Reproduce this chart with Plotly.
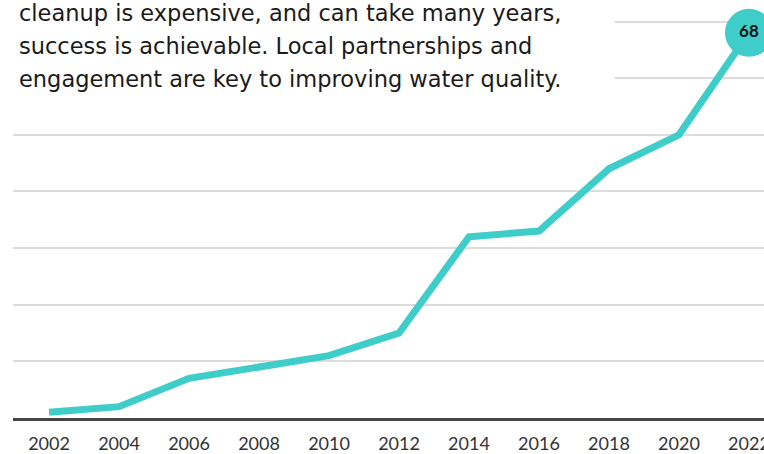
import plotly.graph_objects as go

# Series: restored waterbodies by survey year
years = [2002, 2004, 2006, 2008, 2010, 2012, 2014, 2016, 2018, 2020, 2022]
values = [1, 2, 7, 9, 11, 15, 32, 33, 44, 50, 68]
tick_years = [2002, 2004, 2006, 2008, 2010, 2012, 2014, 2016, 2018, 2020, 2022]
tick_labels = [str(y) for y in tick_years]

intro_lines = [
    "cleanup is expensive, and can take many years,",
    "success is achievable. Local partnerships and",
    "engagement are key to improving water quality.",
]

TEAL = "#3ecdc9"
W, H = 764, 454
ML, MR, MT, MB = 13, 0, 0, 36
plot_h = H - MT - MB

fig = go.Figure()

fig.add_trace(go.Scatter(
    x=years, y=values, mode="lines",
    line=dict(color=TEAL, width=7),
    hoverinfo="skip", showlegend=False,
))

# Highlighted latest value
fig.add_trace(go.Scatter(
    x=[years[-1]], y=[values[-1]], mode="markers+text",
    marker=dict(color=TEAL, size=48, line=dict(width=0)),
    text=[str(values[-1])], textposition="middle center",
    textfont=dict(family="Lato, sans-serif", size=17, color="#111111", weight="bold"),
    cliponaxis=False, hoverinfo="skip", showlegend=False,
))

# White panel behind the intro text hides the upper gridlines
fig.add_shape(
    type="rect", xref="x", yref="y", layer="between",
    x0=2000.5, x1=2018.17, y0=55, y1=80,
    fillcolor="white", line=dict(width=0),
)

line_centres = [13, 46, 79]
for txt, cy in zip(intro_lines, line_centres):
    fig.add_annotation(
        text=txt, xref="paper", yref="paper",
        x=(17 - ML) / (W - ML - MR), y=1 - (cy - MT) / plot_h,
        xanchor="left", yanchor="middle", showarrow=False,
        font=dict(family="DejaVu Sans, sans-serif", size=22.5, color="#1a1a1a"),
    )

fig.update_layout(
    width=W, height=H,
    margin=dict(l=ML, r=MR, t=MT, b=MB, autoexpand=False),
    paper_bgcolor="white", plot_bgcolor="white",
    xaxis=dict(
        range=[2000.97, 2022.43], automargin=False,
        tickmode="array", tickvals=tick_years, ticktext=tick_labels,
        showgrid=False, zeroline=False,
        showline=True, linecolor="#444444", linewidth=3,
        ticks="", ticklabelstandoff=7, ticklabeloverflow="allow",
        tickfont=dict(family="Lato, sans-serif", size=18, color="#333333"),
    ),
    yaxis=dict(
        range=[0, 73.8], dtick=10, tick0=0, automargin=False,
        showgrid=True, gridcolor="#dcdcdc", gridwidth=2,
        zeroline=False, showticklabels=False, ticks="",
    ),
)

fig.write_html("out.html")
